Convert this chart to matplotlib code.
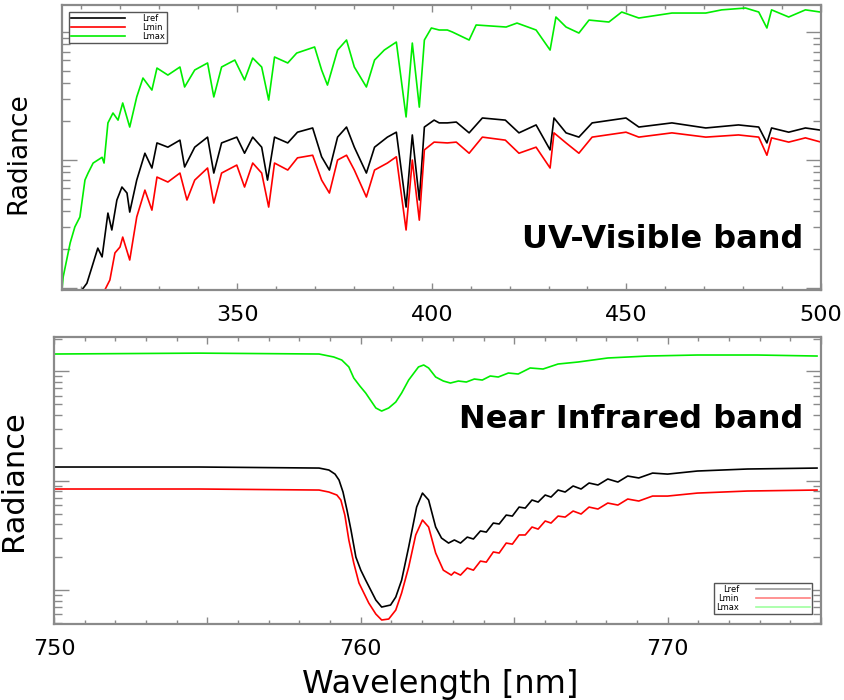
import numpy as np
import matplotlib
matplotlib.use("Agg")
import matplotlib.pyplot as plt
from matplotlib.ticker import MultipleLocator, LogLocator, NullFormatter, FuncFormatter
from matplotlib.lines import Line2D

# UV-Visible band (wavelength nm, radiance arbitrary units)
uv_wl_lmax = [305.0, 305.3, 307.1, 308.3, 309.6, 310.9, 311.7, 313.0, 315.3, 315.8, 316.8, 318.1,
              319.4, 320.6, 322.4, 324.2, 325.8, 328.1, 329.4, 332.2, 335.3, 336.5, 339.1, 342.4,
              344.0, 346.0, 349.4, 351.9, 354.0, 356.3, 358.1, 359.6, 363.0, 365.3, 369.9, 371.7,
              373.2, 375.8, 378.1, 380.1, 383.2, 385.3, 387.8, 390.9, 393.4, 395.0, 396.8, 398.1,
              399.9, 401.9, 404.0, 405.3, 409.6, 411.4, 419.1, 421.9, 426.8, 430.4, 431.9, 434.5,
              437.8, 440.4, 445.5, 448.8, 453.2, 461.7, 470.4, 474.5, 480.6, 484.0, 486.1, 487.3,
              491.7, 496.0, 500.0]
uv_lmax = [0.965, 1.22, 2.25, 3.0, 3.59, 6.98, 7.91, 9.47, 10.5, 9.47, 19.5, 23.3,
           20.5, 27.9, 18.1, 31.1, 43.7, 35.2, 52.3, 46.1, 53.3, 37.2, 50.5, 57.3,
           31.1, 53.3, 60.4, 42.2, 62.6, 53.3, 29.4, 63.8, 57.3, 68.5, 76.4, 50.5,
           38.5, 72.3, 86.6, 53.3, 37.2, 60.4, 72.3, 83.5, 21.7, 82.0, 25.9, 86.6,
           107.5, 103.7, 103.7, 100, 86.6, 113.5, 109.4, 117.5, 103.7, 72.3, 131, 109.4,
           98.2, 124, 119.7, 143.3, 128.6, 140.7, 140.7, 149, 154, 143.3, 107.5, 149,
           131, 149, 143]

uv_wl_lref = [310.1, 311.4, 312.7, 313.5, 314.2, 315.3, 316.8, 317.8, 319.1, 320.4, 321.7, 322.4,
              324.2, 326.3, 328.1, 329.4, 332.2, 335.3, 336.5, 339.1, 342.4, 344.0, 346.0, 349.9,
              351.9, 354.0, 356.3, 357.8, 359.6, 363.0, 365.5, 369.4, 371.7, 373.7, 375.8, 378.1,
              380.1, 383.2, 385.3, 388.6, 390.9, 393.4, 395.0, 396.8, 398.1, 400.6, 401.9, 404.0,
              406.3, 409.6, 413.0, 418.9, 422.4, 426.8, 430.4, 431.4, 434.5, 437.8, 441.2, 449.9,
              453.2, 461.7, 470.4, 478.8, 484.0, 486.1, 487.3, 491.7, 496.0, 500.0]
uv_lref = [0.965, 1.09, 1.46, 1.75, 2.05, 1.75, 3.85, 2.84, 4.87, 6.15, 5.52, 3.92,
           6.97, 11.3, 8.66, 13.6, 12.6, 14.3, 8.82, 12.6, 15.1, 7.91, 13.6, 15.1,
           11.3, 15.1, 12.6, 6.97, 15.1, 13.6, 16.5, 17.8, 10.6, 8.35, 15.1, 18.1,
           12.6, 7.91, 12.6, 15.1, 16.5, 4.29, 15.7, 4.87, 18.1, 20.5, 19.5, 19.5,
           19.8, 16.3, 21.3, 20.5, 16.3, 18.8, 12.0, 21.3, 16.3, 15.1, 19.5, 21.3,
           18.1, 19.5, 17.8, 18.8, 18.1, 13.6, 17.8, 16.5, 17.8, 17.1]

uv_wl_lmin = [316.0, 317.3, 318.6, 319.9, 320.6, 322.4, 324.2, 326.3, 328.1, 329.4, 332.2, 335.3,
              337.1, 339.1, 342.4, 344.0, 346.0, 349.9, 351.9, 354.0, 356.3, 358.1, 359.6, 363.0,
              365.5, 369.4, 371.7, 373.7, 375.8, 378.1, 380.1, 383.2, 385.3, 388.6, 390.9, 393.4,
              395.0, 396.8, 398.1, 400.6, 404.0, 406.3, 409.6, 413.0, 418.9, 422.4, 426.8, 430.4,
              431.4, 434.5, 437.8, 441.2, 449.9, 453.2, 461.7, 470.4, 478.8, 484.0, 486.1, 487.3,
              491.7, 496.0, 500.0]
uv_lmin = [0.965, 1.155, 1.88, 2.09, 2.50, 1.655, 3.59, 5.82, 4.06, 7.36, 6.73, 7.91,
           4.87, 6.97, 8.66, 4.61, 7.91, 9.13, 6.15, 9.47, 7.91, 4.29, 9.47, 8.35,
           10.4, 10.9, 6.97, 5.52, 10.0, 10.9, 8.35, 5.14, 8.35, 9.47, 10.6, 2.84,
           10.0, 3.39, 12.0, 13.8, 13.6, 13.8, 11.3, 15.1, 14.3, 11.3, 12.6, 8.66,
           16.3, 13.6, 11.3, 15.1, 16.5, 15.1, 16.3, 15.1, 15.7, 15.1, 10.9, 14.9,
           13.8, 14.9, 13.8]

# Near infrared band (O2 A-band)
nir_wl_lmax = [750.0, 754.74, 758.64, 759.12, 759.38, 759.61, 759.77, 759.97, 760.16, 760.49,
               760.68, 760.91, 761.14, 761.33, 761.56, 761.88, 762.05, 762.21, 762.44, 762.69,
               762.92, 763.18, 763.44, 763.70, 763.96, 764.22, 764.48, 764.81, 765.13, 765.52,
               765.94, 766.43, 767.08, 768.05, 769.35, 770.97, 772.92, 774.87]
nir_lmax = [144.3, 147, 144.3, 135.5, 127.1, 109.9, 87.1, 73.5, 63.4, 46.3,
            43.4, 46.3, 52.5, 63.4, 83.4, 109.9, 114.5, 107.5, 88.9, 81.7,
            78.3, 81.7, 80.0, 85.2, 83.4, 90.8, 88.9, 96.7, 94.7, 107.5,
            105.2, 116.9, 121.9, 132.7, 138.3, 141.3, 141.3, 138.3]

nir_wl_lref = [750.0, 754.74, 758.64, 758.96, 759.16, 759.29, 759.42, 759.55, 759.68, 759.84,
               760.0, 760.16, 760.49, 760.68, 760.97, 761.14, 761.33, 761.56, 761.82, 762.01,
               762.21, 762.44, 762.63, 762.86, 763.05, 763.25, 763.47, 763.67, 763.90, 764.09,
               764.32, 764.51, 764.74, 764.94, 765.16, 765.36, 765.58, 765.78, 766.01, 766.20,
               766.43, 766.66, 766.92, 767.18, 767.44, 767.73, 768.05, 768.38, 768.70, 769.06,
               769.51, 770.0, 770.97, 772.60, 774.87]
nir_lref = [13.35, 13.35, 13.06, 12.53, 11.5, 10.15, 7.88, 5.39, 3.54, 2.00,
            1.52, 1.23, 0.81, 0.699, 0.729, 0.863, 1.23, 2.47, 5.74, 7.71,
            6.66, 3.77, 2.99, 2.69, 2.87, 2.69, 3.05, 2.93, 3.47, 3.39,
            4.10, 4.02, 4.85, 4.75, 5.74, 5.62, 6.66, 6.38, 7.40, 7.09,
            8.22, 7.88, 8.95, 8.40, 9.53, 9.14, 10.37, 9.73, 11.04, 10.6,
            11.75, 11.5, 12.27, 12.8, 13.06]

nir_wl_lmin = [750.0, 754.74, 758.64, 758.96, 759.22, 759.35, 759.48, 759.61, 759.77, 759.94,
               760.26, 760.49, 760.68, 760.91, 761.14, 761.33, 761.56, 761.79, 762.01, 762.21,
               762.44, 762.69, 762.95, 763.05, 763.25, 763.47, 763.67, 763.90, 764.09, 764.32,
               764.51, 764.74, 764.94, 765.16, 765.36, 765.58, 765.78, 766.01, 766.20, 766.43,
               766.66, 766.92, 767.18, 767.44, 767.73, 768.05, 768.38, 768.70, 769.06, 769.51,
               770.0, 770.97, 772.60, 774.87]
nir_lmin = [8.40, 8.40, 8.22, 7.88, 7.40, 6.66, 4.85, 2.87, 1.77, 1.16,
            0.760, 0.603, 0.532, 0.543, 0.656, 0.939, 1.62, 3.19, 4.37, 3.77,
            2.18, 1.52, 1.37, 1.46, 1.37, 1.59, 1.52, 1.84, 1.80, 2.23,
            2.18, 2.69, 2.63, 3.19, 3.19, 3.77, 3.61, 4.28, 4.10, 4.75,
            4.65, 5.28, 4.96, 5.74, 5.51, 6.25, 5.99, 6.80, 6.52, 7.24,
            7.24, 7.71, 8.05, 8.22]

labels = ["Lref", "Lmin", "Lmax"]
colors = ["black", "red", "#00ee00"]
axis_gray = "#8a8a8a"


def style_axes(ax):
    for s in ax.spines.values():
        s.set_color(axis_gray)
        s.set_linewidth(1.6)
    ax.set_yscale("log")
    ax.yaxis.set_major_locator(LogLocator(base=10))
    ax.yaxis.set_minor_locator(LogLocator(base=10, subs=np.arange(2, 10)))
    ax.yaxis.set_major_formatter(NullFormatter())
    ax.yaxis.set_minor_formatter(NullFormatter())
    ax.tick_params(which="both", direction="in", top=True, right=True, color=axis_gray, width=1)
    ax.tick_params(axis="y", which="major", length=11)
    ax.tick_params(axis="y", which="minor", length=6)
    ax.tick_params(axis="x", which="major", length=5, labelsize=16, pad=11)
    ax.tick_params(axis="x", which="minor", length=3)


fig = plt.figure(figsize=(8.44, 7.0), dpi=100)

# top panel: UV-Visible
ax1 = fig.add_axes([62 / 844, 1 - 290 / 700, 759 / 844, 285 / 700])
ax1.plot(uv_wl_lref, uv_lref, color=colors[0], lw=1.2, label=labels[0])
ax1.plot(uv_wl_lmin, uv_lmin, color=colors[1], lw=1.2, label=labels[1])
ax1.plot(uv_wl_lmax, uv_lmax, color=colors[2], lw=1.2, label=labels[2])
style_axes(ax1)
ax1.set_xlim(305, 500)
ax1.set_ylim(0.965, 162.6)
ax1.xaxis.set_major_locator(MultipleLocator(50))
ax1.xaxis.set_minor_locator(MultipleLocator(10))
ax1.set_ylabel("Radiance", fontsize=19)
ax1.yaxis.set_label_coords(-0.04, 0.48)
leg1 = ax1.legend(loc="upper left", bbox_to_anchor=(69 / 844, 1 - 12 / 700),
                  bbox_transform=fig.transFigure, fontsize=6, labelspacing=0.0,
                  handlelength=6.5, handletextpad=2.0, borderpad=0.25, borderaxespad=0,
                  fancybox=False, framealpha=1)
leg1.get_frame().set_edgecolor("#555555")
leg1.get_frame().set_linewidth(1)
fig.text(803 / 844, 1 - 240 / 700, "UV-Visible band", ha="right", va="center",
         fontsize=23, fontweight="bold")

# bottom panel: Near Infrared
ax2 = fig.add_axes([54 / 844, 1 - 624 / 700, 767 / 844, 287 / 700])
ax2.plot(nir_wl_lmax, nir_lmax, color=colors[2], lw=1.2)
ax2.plot(nir_wl_lref, nir_lref, color=colors[0], lw=1.2)
ax2.plot(nir_wl_lmin, nir_lmin, color=colors[1], lw=1.2)
style_axes(ax2)
ax2.set_xlim(750, 775)
ax2.set_ylim(0.489, 206.5)
ax2.xaxis.set_major_locator(MultipleLocator(5))
ax2.xaxis.set_minor_locator(MultipleLocator(1))
ax2.xaxis.set_major_formatter(FuncFormatter(lambda v, p: f"{v:.0f}" if round(v) % 10 == 0 and v < 775 else ""))
ax2.set_ylabel("Radiance", fontsize=22)
ax2.yaxis.set_label_coords(-0.034, 0.5)
handles2 = [Line2D([], [], color=c, lw=1.2) for c in ["#9a9a9a", "#ff8080", "#a0ffa0"]]
leg2 = ax2.legend(handles2, labels, loc="lower right", bbox_to_anchor=(812 / 844, 1 - 614 / 700),
                  bbox_transform=fig.transFigure, fontsize=6, labelspacing=0.0,
                  handlelength=6.5, handletextpad=2.0, borderpad=0.25, borderaxespad=0,
                  fancybox=False, framealpha=1, markerfirst=False)
leg2.get_frame().set_edgecolor("#555555")
leg2.get_frame().set_linewidth(1)
fig.text(803 / 844, 1 - 420 / 700, "Near Infrared band", ha="right", va="center",
         fontsize=23, fontweight="bold")

fig.text(440 / 844, 1 - 685 / 700, "Wavelength [nm]", ha="center", va="center", fontsize=23)

fig.savefig("out.png", dpi=100)
